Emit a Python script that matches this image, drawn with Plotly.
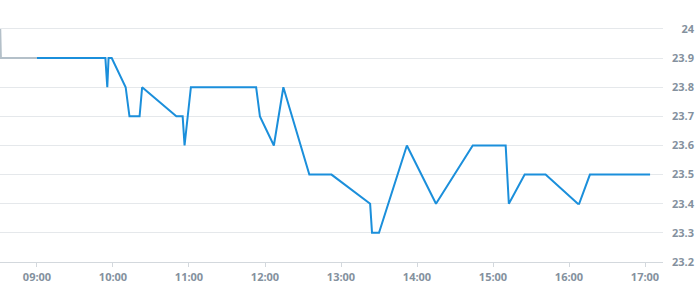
import plotly.graph_objects as go

day = "2024-01-02 "

pre_times = ["08:31", "08:31:30", "09:00"]
pre_values = [24.0, 23.9, 23.9]

times = ["09:00", "09:54", "09:55:30", "09:56:30", "09:59", "10:10", "10:13", "10:21",
         "10:23", "10:50", "10:55", "10:56:30", "11:01:30", "11:53", "11:56", "12:07",
         "12:14:30", "12:35", "12:52:30", "13:23", "13:24:30", "13:30", "13:52", "14:15",
         "14:44", "15:10", "15:12:30", "15:25", "15:41:30", "16:07", "16:08", "16:16:30",
         "17:04"]
values = [23.9, 23.9, 23.8, 23.9, 23.9, 23.8, 23.7, 23.7,
          23.8, 23.7, 23.7, 23.6, 23.8, 23.8, 23.7, 23.6,
          23.8, 23.5, 23.5, 23.4, 23.3, 23.3, 23.6, 23.4,
          23.6, 23.6, 23.4, 23.5, 23.5, 23.4, 23.4, 23.5,
          23.5]

x_ticks = ["09:00", "10:00", "11:00", "12:00", "13:00", "14:00", "15:00", "16:00", "17:00"]
y_ticks = [23.2, 23.3, 23.4, 23.5, 23.6, 23.7, 23.8, 23.9, 24.0]
# leading punctuation + figure spaces right-align "24" with the four-character labels
y_tick_labels = ["23.2", "23.3", "23.4", "23.5", "23.6", "23.7", "23.8", "23.9",
                 "\u2008\u200724"]

label_font = dict(family="Open Sans", size=11, color="#84919e", weight="bold")

fig = go.Figure()
fig.add_trace(go.Scatter(x=[day + t for t in pre_times], y=pre_values, mode="lines",
                         line=dict(color="#b4c0c9", width=2), hoverinfo="skip"))
fig.add_trace(go.Scatter(x=[day + t for t in times], y=values, mode="lines",
                         line=dict(color="#1b8fdb", width=2), hoverinfo="skip"))

fig.update_layout(
    width=695, height=300,
    margin=dict(l=0, r=32, t=0, b=38),
    paper_bgcolor="white", plot_bgcolor="white",
    showlegend=False,
    xaxis=dict(
        type="date",
        range=[day + "08:30:48", day + "17:14:12"],
        tickvals=[day + t for t in x_ticks],
        ticktext=x_ticks,
        showgrid=False, zeroline=False,
        showline=True, linecolor="#d3d8dd", linewidth=1,
        ticks="outside", ticklen=4, tickcolor="#d3d8dd",
        ticklabelstandoff=1,
        tickfont=label_font,
        automargin=False,
    ),
    yaxis=dict(
        side="right",
        range=[23.2, 24.0995],
        tickvals=y_ticks, ticktext=y_tick_labels,
        showgrid=True, gridcolor="#e5e8eb", gridwidth=1,
        zeroline=False, showline=False, ticks="",
        ticklabelstandoff=8,
        tickfont=label_font,
        automargin=False,
    ),
)

fig.write_html("out.html")
